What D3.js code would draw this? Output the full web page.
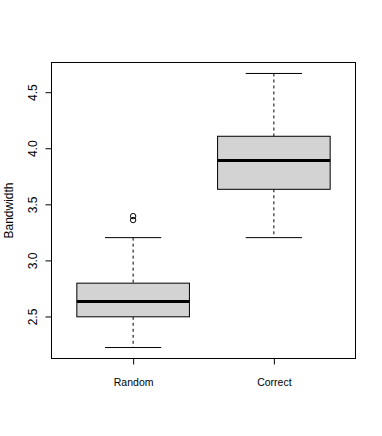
<!DOCTYPE html>
<html>
<head>
<meta charset="utf-8">
<script src="https://cdn.jsdelivr.net/npm/d3@7.9.0/dist/d3.min.js"></script>
<style>
  body { margin: 0; background: #fff; }
  svg { display: block; font-family: "Liberation Sans", Arial, sans-serif; }
</style>
</head>
<body>
<svg id="chart" width="382" height="436"></svg>
<script>
// box statistics
const groups = ['Random', 'Correct'];
const lowerWhisker = [2.223, 3.203];
const q1 = [2.497, 3.634];
const medians = [2.634, 3.890];
const q3 = [2.797, 4.107];
const upperWhisker = [3.203, 4.667];
const outliers = [[3.395, 3.36], []];
const yTicks = [2.5, 3.0, 3.5, 4.0, 4.5];

const svg = d3.select('#chart');
const plotLeft = 51.5, plotRight = 355.5, plotTop = 62.5, plotBottom = 358.5;

// R style 4% padding on the data range
const allVals = lowerWhisker.concat(upperWhisker, outliers.flat());
const lo = d3.min(allVals), hi = d3.max(allVals);
const pad = (hi - lo) * 0.04;
const y = d3.scaleLinear().domain([lo - pad, hi + pad]).range([plotBottom, plotTop]);
const x = d3.scaleLinear().domain([0.42, 2.58]).range([plotLeft, plotRight]);

const boxW = 0.8, capW = 0.4;

const g = svg.append('g');

groups.forEach((name, i) => {
  const cx = x(i + 1);

  // whiskers (dashed)
  g.append('line')
    .attr('x1', cx).attr('x2', cx)
    .attr('y1', y(upperWhisker[i])).attr('y2', y(q3[i]))
    .attr('stroke', '#000').attr('stroke-dasharray', '3,3');
  g.append('line')
    .attr('x1', cx).attr('x2', cx)
    .attr('y1', y(q1[i])).attr('y2', y(lowerWhisker[i]))
    .attr('stroke', '#000').attr('stroke-dasharray', '3,3');

  // caps
  [upperWhisker[i], lowerWhisker[i]].forEach(v => {
    g.append('line')
      .attr('x1', x(i + 1 - capW / 2)).attr('x2', x(i + 1 + capW / 2))
      .attr('y1', y(v)).attr('y2', y(v))
      .attr('stroke', '#000');
  });

  // box
  g.append('rect')
    .attr('x', x(i + 1 - boxW / 2))
    .attr('width', x(i + 1 + boxW / 2) - x(i + 1 - boxW / 2))
    .attr('y', y(q3[i]))
    .attr('height', y(q1[i]) - y(q3[i]))
    .attr('fill', '#d3d3d3')
    .attr('stroke', '#000');

  // median
  g.append('line')
    .attr('x1', x(i + 1 - boxW / 2)).attr('x2', x(i + 1 + boxW / 2))
    .attr('y1', y(medians[i])).attr('y2', y(medians[i]))
    .attr('stroke', '#000').attr('stroke-width', 3);

  // outliers
  outliers[i].forEach(v => {
    g.append('circle')
      .attr('cx', cx).attr('cy', y(v)).attr('r', 2.7)
      .attr('fill', 'none').attr('stroke', '#000');
  });
});

// frame
svg.append('rect')
  .attr('x', plotLeft).attr('y', plotTop)
  .attr('width', plotRight - plotLeft).attr('height', plotBottom - plotTop)
  .attr('fill', 'none').attr('stroke', '#000');

// y axis
const yAxis = svg.append('g')
  .attr('transform', `translate(${plotLeft},0)`)
  .call(d3.axisLeft(y).tickValues(yTicks).tickSize(6).tickFormat(d3.format('.1f')));
yAxis.select('.domain').remove();
yAxis.selectAll('line').attr('stroke', '#000');
yAxis.selectAll('text')
  .attr('transform', 'rotate(-90)')
  .attr('x', 0).attr('y', -15).attr('dy', null)
  .attr('text-anchor', 'middle')
  .attr('font-size', 12).attr('font-family', null)
  .attr('fill', '#000');

// x axis
const xAxis = svg.append('g')
  .attr('transform', `translate(0,${plotBottom})`)
  .call(d3.axisBottom(x).tickValues([1, 2]).tickSize(6).tickFormat(d => groups[d - 1]));
xAxis.select('.domain').remove();
xAxis.selectAll('line').attr('stroke', '#000');
xAxis.selectAll('text')
  .attr('y', 27.5).attr('dy', null)
  .attr('font-size', 10.5).attr('font-family', null)
  .attr('fill', '#000');

// y label
svg.append('text')
  .attr('transform', `translate(13,${(plotTop + plotBottom) / 2}) rotate(-90)`)
  .attr('text-anchor', 'middle')
  .attr('font-size', 12)
  .text('Bandwidth');
</script>
</body>
</html>
